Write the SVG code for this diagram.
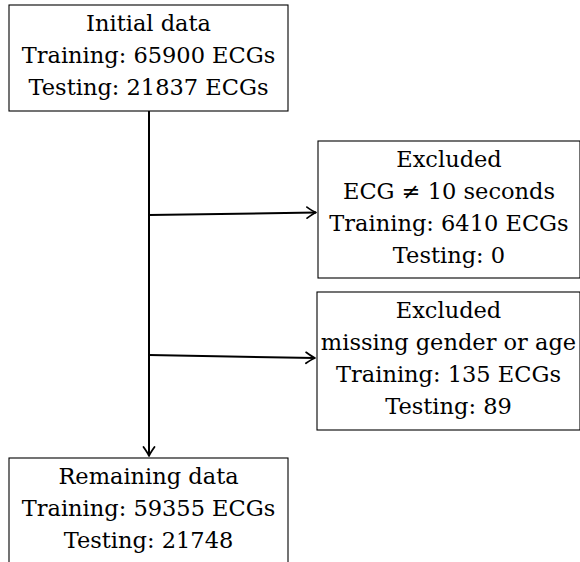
<svg xmlns="http://www.w3.org/2000/svg" width="580" height="562" viewBox="0 0 580 562">
<style>
.box{fill:#fff;stroke:#000;stroke-width:1.1}
.c{fill:none;stroke:#000;stroke-width:2}
</style>
<defs>
<marker id="arr" markerUnits="userSpaceOnUse" markerWidth="14" markerHeight="14" refX="0" refY="0" viewBox="-11 -7 13 14" orient="auto">
<path d="M-9,-5.5 Q-3,-1.2 0,0 Q-3,1.2 -9,5.5" fill="none" stroke="#000" stroke-width="1.8" stroke-linecap="round" stroke-linejoin="round"/>
</marker>
</defs>
<rect width="580" height="562" fill="#fff"/>
<g id="connectors">
<line class="c" x1="149" y1="111" x2="149" y2="456" marker-end="url(#arr)"/>
<line class="c" x1="149" y1="215" x2="316" y2="212.5" marker-end="url(#arr)"/>
<line class="c" x1="149" y1="355" x2="315" y2="358" marker-end="url(#arr)"/>
</g>
<g font-family="DejaVu Serif" font-size="22.5" text-anchor="middle" fill="#000">
<g id="initial">
<rect class="box" x="9" y="5" width="279" height="106"/>
<text x="148.5" y="31">Initial data</text>
<text x="148.5" y="63">Training: 65900 ECGs</text>
<text x="148.5" y="95">Testing: 21837 ECGs</text>
</g>
<g id="excluded1">
<rect class="box" x="318" y="141" width="262" height="137"/>
<text x="449" y="167">Excluded</text>
<text x="449" y="199">ECG &#8800; 10 seconds</text>
<text x="449" y="231">Training: 6410 ECGs</text>
<text x="449" y="263">Testing: 0</text>
</g>
<g id="excluded2">
<rect class="box" x="317" y="292" width="263" height="138"/>
<text x="448.5" y="318">Excluded</text>
<text x="448.5" y="350">missing gender or age</text>
<text x="448.5" y="382">Training: 135 ECGs</text>
<text x="448.5" y="414">Testing: 89</text>
</g>
<g id="remaining">
<rect class="box" x="9" y="458" width="279" height="120"/>
<text x="148.5" y="484">Remaining data</text>
<text x="148.5" y="516">Training: 59355 ECGs</text>
<text x="148.5" y="548">Testing: 21748</text>
</g>
</g>
</svg>
